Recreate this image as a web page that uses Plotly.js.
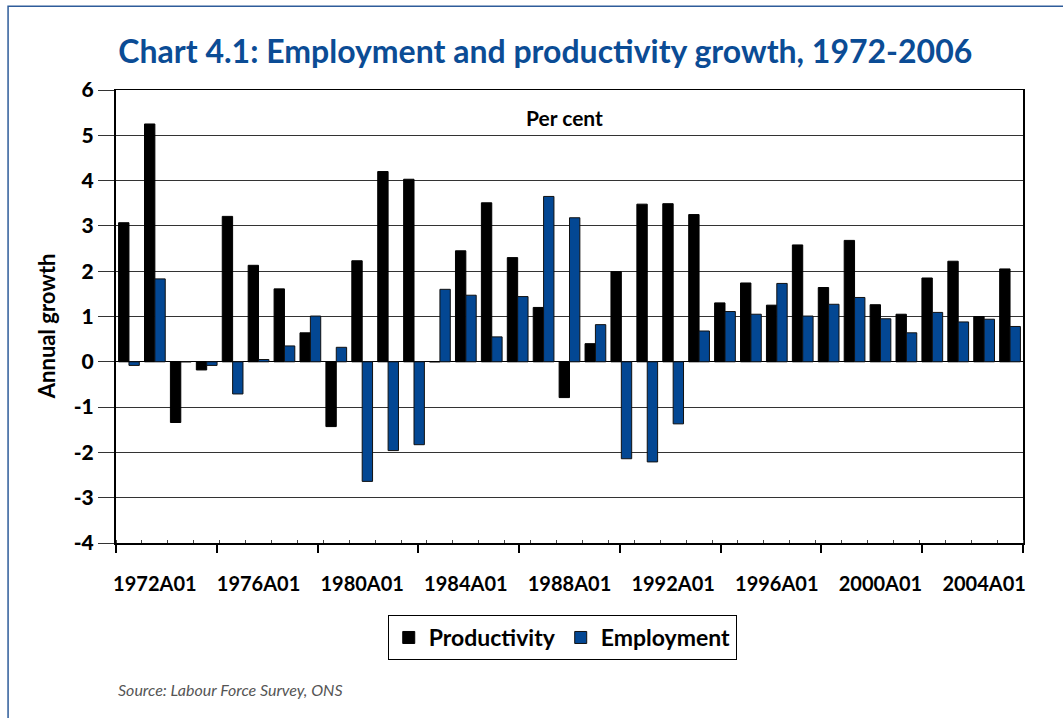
<!DOCTYPE html>
<html>
<head>
<meta charset="utf-8">
<script src="https://cdn.plot.ly/plotly-3.0.1.min.js"></script>
<style>
  html, body { margin: 0; padding: 0; background: #fff; }
  #chart { width: 1063px; height: 718px; }
</style>
</head>
<body>
<div id="chart"></div>
<script>
// annual growth, per cent
const years = [1972, 1973, 1974, 1975, 1976, 1977, 1978, 1979, 1980, 1981,
  1982, 1983, 1984, 1985, 1986, 1987, 1988, 1989, 1990, 1991,
  1992, 1993, 1994, 1995, 1996, 1997, 1998, 1999, 2000, 2001,
  2002, 2003, 2004, 2005, 2006];

const productivity = [3.07, 5.25, -1.34, -0.18, 3.21, 2.13, 1.61, 0.64, -1.43, 2.23,
  4.20, 4.03, 0.00, 2.45, 3.51, 2.30, 1.20, -0.79, 0.40, 1.99,
  3.48, 3.49, 3.25, 1.30, 1.74, 1.25, 2.58, 1.64, 2.68, 1.26,
  1.05, 1.85, 2.22, 1.00, 2.05];

const employment = [-0.08, 1.83, 0.00, -0.08, -0.71, 0.05, 0.35, 1.01, 0.32, -2.64,
  -1.96, -1.83, 1.60, 1.47, 0.55, 1.44, 3.65, 3.18, 0.82, -2.14,
  -2.21, -1.37, 0.68, 1.11, 1.05, 1.73, 1.01, 1.27, 1.42, 0.95,
  0.64, 1.09, 0.88, 0.94, 0.78];

const tickLabels = ['1972A01', '1976A01', '1980A01', '1984A01', '1988A01',
  '1992A01', '1996A01', '2000A01', '2004A01'];
const labelPos = [1973, 1977, 1981, 1985, 1989, 1993, 1997, 2001, 2005];

const yTicks = [-4, -3, -2, -1, 0, 1, 2, 3, 4, 5, 6];

const font = 'Lato, "Open Sans", sans-serif';
const blue = '#034793';

// major tick marks split the axis into nine equal parts
const xMin = years[0] - 0.5;
const xMax = years[years.length - 1] + 0.5;
const majorTicks = [];
for (let k = 0; k <= tickLabels.length; k++) {
  majorTicks.push(xMin + k * (xMax - xMin) / tickLabels.length);
}

const traces = [
  {
    type: 'bar',
    name: 'Productivity',
    x: years,
    y: productivity,
    marker: {color: '#000', line: {color: '#000', width: 1}},
  },
  {
    type: 'bar',
    name: 'Employment',
    x: years,
    y: employment,
    marker: {color: blue, line: {color: '#111', width: 1}},
  },
  // empty trace so the tick-mark axis gets drawn
  {
    type: 'scatter',
    mode: 'markers',
    x: [xMin],
    y: [null],
    xaxis: 'x2',
    showlegend: false,
    hoverinfo: 'skip',
  },
];

const layout = {
  width: 1063,
  height: 718,
  margin: {l: 116, r: 40, t: 90, b: 175},
  paper_bgcolor: '#fff',
  plot_bgcolor: '#fff',
  font: {family: font, size: 19, color: '#000', weight: 700},
  barmode: 'group',
  bargap: 0.2,
  bargroupgap: 0,
  title: {
    text: 'Chart 4.1: Employment and productivity growth, 1972-2006',
    font: {family: font, size: 32, color: '#0B4C95', weight: 700},
    x: 0.513,
    xanchor: 'center',
    xref: 'container',
    y: 0.928,
    yanchor: 'middle',
    yref: 'container',
  },
  xaxis: {
    range: [xMin, xMax],
    tickmode: 'array',
    tickvals: labelPos,
    ticktext: tickLabels,
    ticks: '',
    ticklabelstandoff: 22,
    tickfont: {family: font, size: 20, weight: 700},
    showgrid: false,
    zeroline: false,
    showline: true,
    linecolor: '#000',
    linewidth: 1.5,
    mirror: true,
    minor: {
      tick0: xMin,
      dtick: 1,
      ticks: 'inside',
      ticklen: 3,
      tickcolor: '#444',
      showgrid: false,
    },
  },
  xaxis2: {
    overlaying: 'x',
    anchor: 'y',
    side: 'bottom',
    range: [xMin, xMax],
    tickmode: 'array',
    tickvals: majorTicks,
    showticklabels: false,
    ticks: 'outside',
    ticklen: 9,
    tickwidth: 2,
    tickcolor: '#000',
    showgrid: false,
    zeroline: false,
    showline: false,
  },
  yaxis: {
    range: [-4, 6],
    tickmode: 'array',
    tickvals: yTicks,
    ticktext: yTicks.map(v => String(v)),
    ticks: 'outside',
    ticklen: 16,
    tickcolor: '#333',
    tickwidth: 1,
    tickfont: {family: font, size: 21, weight: 900},
    showgrid: true,
    gridcolor: '#333',
    gridwidth: 1,
    zeroline: true,
    zerolinecolor: '#000',
    zerolinewidth: 1,
    showline: true,
    linecolor: '#000',
    linewidth: 2,
    mirror: true,
  },
  legend: {
    orientation: 'h',
    x: 0.492,
    xanchor: 'center',
    y: -0.159,
    yanchor: 'top',
    bordercolor: '#000',
    borderwidth: 1,
    font: {family: font, size: 23, weight: 700},
    itemwidth: 30,
  },
  annotations: [
    {
      text: 'Annual growth',
      textangle: -90,
      xref: 'paper', yref: 'paper',
      x: -0.077, y: 0.479,
      xanchor: 'center', yanchor: 'middle',
      showarrow: false,
      font: {family: font, size: 22, weight: 700},
    },
    {
      text: 'Per cent',
      xref: 'paper', yref: 'paper',
      x: 0.494, y: 0.94,
      xanchor: 'center', yanchor: 'middle',
      showarrow: false,
      font: {family: font, size: 21, weight: 700},
    },
    {
      text: 'Source: Labour Force Survey, ONS',
      xref: 'paper', yref: 'paper',
      x: 0, y: -0.3245,
      xanchor: 'left', yanchor: 'middle',
      showarrow: false,
      font: {family: font, size: 16, style: 'italic', weight: 400, color: '#555'},
    },
  ],
  shapes: [
    {
      type: 'rect',
      xref: 'paper', yref: 'paper',
      x0: -0.119, x1: 1.5,
      y0: -1, y1: 1.185,
      line: {color: '#2E5C9A', width: 1.5},
      fillcolor: 'rgba(0,0,0,0)',
      layer: 'below',
    },
  ],
};

Plotly.newPlot('chart', traces, layout, {displayModeBar: false, staticPlot: true});
</script>
</body>
</html>
